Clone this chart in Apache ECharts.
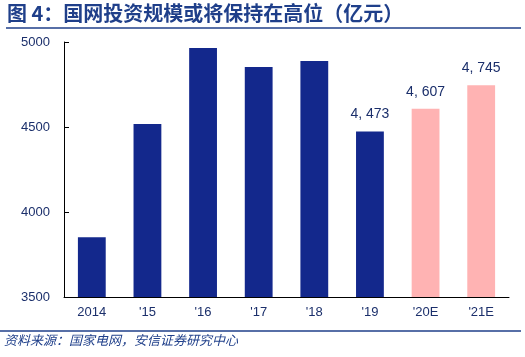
<!DOCTYPE html>
<html><head><meta charset="utf-8">
<script src="https://cdn.jsdelivr.net/npm/echarts@6/dist/echarts.min.js"></script>
<style>html,body{margin:0;padding:0;background:#fff;}#c{width:525px;height:357px;}</style>
</head><body><div id="c"></div>
<script>
const categories = ['2014', "'15", "'16", "'17", "'18", "'19", "'20E", "'21E"];
const values = [3852, 4518, 4965, 4853, 4888, 4473, 4607, 4745];
const labeled = [false, false, false, false, false, true, true, true];
const estimate = [false, false, false, false, false, false, true, true];
const yTicks = [3500, 4000, 4500, 5000];

const navy = '#1B2F6B';
const chart = echarts.init(document.getElementById('c'));
chart.setOption({
  animation: false,
  graphic: [
    {type:'text', left: 7, top: 3, style:{text:'图 4：国网投资规模或将保持在高位（亿元）', fill:'#1F3F8A', font:'bold 20px "Noto Sans CJK SC"'}},
    {type:'line', shape:{x1:6,y1:28,x2:521,y2:28}, style:{stroke:'#1F3F8A', lineWidth:1.5}},
    {type:'line', shape:{x1:0,y1:331,x2:521,y2:331}, style:{stroke:'#1F3F8A', lineWidth:1.5}},
    {type:'text', left: 4, top: 334, style:{text:'资料来源：国家电网，安信证券研究中心', fill:'#1F3F8A', font:'italic 13px "Noto Sans CJK SC"'}}
  ],
  grid: {left: 64, right: 16, top: 42, bottom: 60},
  xAxis: {
    type: 'category', data: categories,
    axisLine: {lineStyle: {color: '#000'}},
    axisTick: {inside: true, length: 4, lineStyle: {color: '#000'}},
    axisLabel: {color: navy, fontSize: 13, fontFamily: 'Liberation Sans', margin: 9}
  },
  yAxis: {
    type: 'value', min: 3500, max: 5000, interval: 500,
    axisLine: {show: true, lineStyle: {color: '#000'}},
    axisTick: {show: true, inside: true, length: 5, lineStyle: {color: '#000'}},
    splitLine: {show: false},
    axisLabel: {color: navy, fontSize: 13, fontFamily: 'Liberation Sans', margin: 14,
      formatter: v => String(v)}
  },
  series: [{
    type: 'bar', barWidth: '50%',
    data: values.map((v, i) => ({
      value: v,
      itemStyle: {color: estimate[i] ? '#FFB3B3' : '#13288C'},
      label: {show: labeled[i], position: 'top', distance: 10, color: navy, fontSize: 14,
        fontFamily: 'Liberation Sans',
        formatter: p => String(p.value).replace(/(\d)(\d{3})$/, '$1, $2')}
    }))
  }]
});
</script></body></html>
